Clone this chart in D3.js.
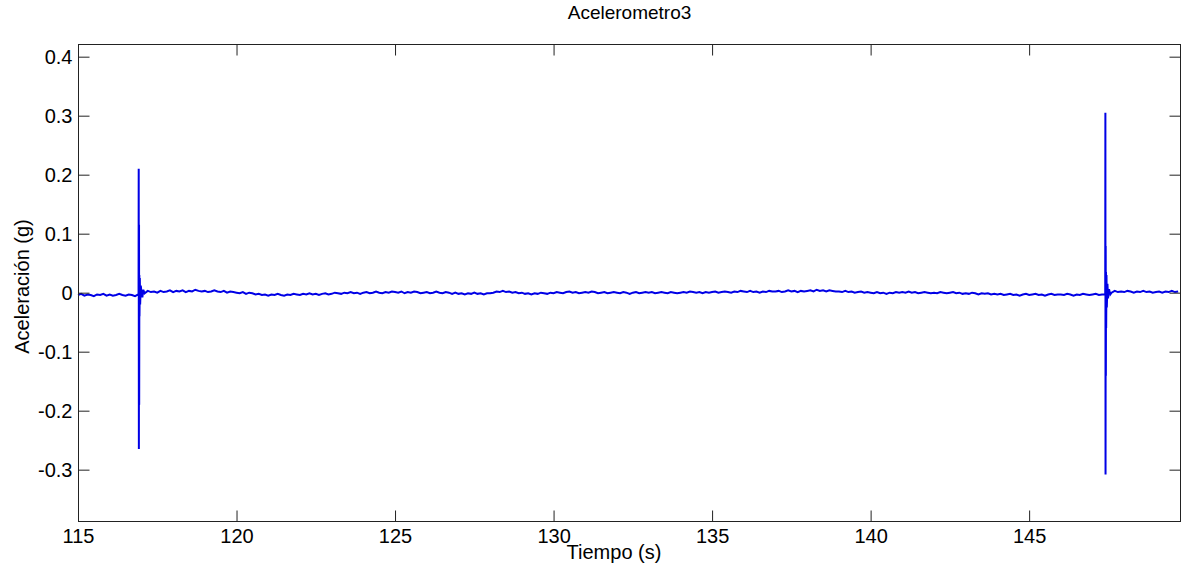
<!DOCTYPE html>
<html>
<head>
<meta charset="utf-8">
<script src="https://cdn.jsdelivr.net/npm/d3@7"></script>
<style>
  body { margin: 0; background: #fff; }
  svg { display: block; font-family: "Liberation Sans", Arial, sans-serif; }
</style>
</head>
<body>
<svg id="chart"></svg>
<script>
// baseline readings, thousandths of g, every 0.1 s starting at 115.0 s
const t0 = 115.0;
const dt = 0.1;
const baseMg = [
  -4,-2,-5,-3,-4,-6,-3,-4,-2,-5,
  -3,-5,-4,-2,-4,-5,-3,-4,-6,-3,
  2,-1,3,1,2,0,3,1,2,4,
  1,3,2,4,1,3,2,5,3,2,
  3,1,2,4,2,1,3,0,2,1,
  0,-1,1,-2,0,-1,-3,-2,-4,-3,
  -5,-3,-4,-2,-4,-5,-3,-4,-2,-3,
  -4,-2,-3,-1,-3,-2,-4,-2,-1,-3,
  -2,0,-1,-2,0,-1,1,-1,0,-2,
  0,1,-1,0,2,0,-1,1,0,2,
  1,0,2,-1,1,0,2,1,-1,0,
  1,-1,0,2,0,-1,1,0,-2,0,
  -2,-1,-3,-1,-2,0,-2,-1,-3,-1,
  -1,0,2,1,3,1,2,0,1,-1,
  0,-2,-1,-3,-1,-2,0,-1,-2,0,
  -1,1,0,-1,1,2,0,1,-1,0,
  1,0,2,1,-1,0,1,-1,0,1,
  0,-1,1,0,-2,0,1,-1,0,1,
  0,1,-1,0,1,0,-1,1,0,-1,
  0,1,0,2,1,0,1,-1,1,0,
  1,2,0,1,2,1,0,2,1,3,
  2,1,3,1,2,0,2,1,3,2,
  2,3,1,2,4,2,3,1,3,2,
  3,4,2,5,3,4,2,4,3,2,
  2,1,3,1,2,0,1,2,0,1,
  0,-1,1,-1,0,-2,0,-1,1,0,
  1,0,2,0,1,-1,0,1,0,-1,
  0,-1,1,0,-1,0,1,-1,0,-2,
  -1,-2,0,-1,-3,-1,-2,-1,-3,-2,
  -3,-2,-4,-3,-2,-4,-3,-5,-3,-2,
  -4,-3,-2,-4,-3,-5,-3,-2,-4,-3,
  -3,-4,-2,-3,-5,-3,-4,-2,-3,-4,
  -3,-2,-4,-3,-3,2,0,3,1,2,
  1,3,2,0,2,1,3,1,2,0,
  1,2,0,2,1,3,1,2
];

// first impact
const spike1T = [116.91, 116.915, 116.92, 116.925, 116.93, 116.935, 116.94, 116.95, 116.96, 116.98, 117.03, 117.06];
const spike1V = [-0.004, 0.21, -0.265, 0.115, -0.19, 0.03, -0.04, 0.025, -0.02, 0.012, -0.008, 0.005];

// second impact
const spike2T = [147.405, 147.41, 147.415, 147.42, 147.425, 147.43, 147.44, 147.45, 147.47, 147.49, 147.52, 147.56];
const spike2V = [0.305, -0.308, 0.079, -0.141, 0.035, -0.06, 0.03, -0.025, 0.015, -0.01, 0.006, -0.003];

const xTicks = [115, 120, 125, 130, 135, 140, 145];
const yTicks = [-0.3, -0.2, -0.1, 0, 0.1, 0.2, 0.3, 0.4];

const width = 1182, height = 569;
const margin = { top: 44, right: 1, bottom: 48, left: 78 };

const svg = d3.select("#chart").attr("width", width).attr("height", height);

const x = d3.scaleLinear().domain([115, 149.79]).range([margin.left, width - margin.right]);
const y = d3.scaleLinear().domain([-0.387, 0.4215]).range([height - margin.bottom, margin.top]);

// merge baseline and spike samples
let pts = baseMg.map((v, i) => ({ t: t0 + i * dt, v: v / 1000 }));
spike1T.forEach((t, i) => pts.push({ t: t, v: spike1V[i] }));
spike2T.forEach((t, i) => pts.push({ t: t, v: spike2V[i] }));
pts.sort((a, b) => a.t - b.t);

const line = d3.line().x(d => x(d.t)).y(d => y(d.v));

svg.append("path")
  .datum(pts)
  .attr("fill", "none")
  .attr("stroke", "#0000e6")
  .attr("stroke-width", 2)
  .attr("stroke-linejoin", "miter")
  .attr("d", line);

const tickLen = 11;
const x0 = margin.left, x1 = width - margin.right;
const y0 = height - margin.bottom, y1 = margin.top;
const fmt = d => d === 0 ? "0" : d3.format(".1f")(d).replace("\u2212", "-");

// box
svg.append("rect")
  .attr("x", x0 + 0.5).attr("y", y1 + 0.5)
  .attr("width", x1 - x0 - 1).attr("height", y0 - y1)
  .attr("fill", "none").attr("stroke", "#222").attr("stroke-width", 1);

// x axis (inward ticks, mirrored on top)
const xAxis = d3.axisBottom(x).tickValues(xTicks).tickSizeInner(-tickLen).tickSizeOuter(0).tickPadding(7);
const gx = svg.append("g").attr("transform", `translate(0,${y0 + 0.5})`).call(xAxis);
gx.select(".domain").remove();
gx.selectAll("line").attr("stroke", "#222");
gx.selectAll("text").attr("font-size", 20).attr("fill", "#000");

const gxTop = svg.append("g").attr("transform", `translate(0,${y1 + 0.5})`)
  .call(d3.axisTop(x).tickValues(xTicks).tickSizeInner(-tickLen).tickSizeOuter(0).tickFormat(""));
gxTop.select(".domain").remove();
gxTop.selectAll("line").attr("stroke", "#222");

// y axis
const yAxis = d3.axisLeft(y).tickValues(yTicks).tickSizeInner(-tickLen).tickSizeOuter(0).tickPadding(6)
  .tickFormat(fmt);
const gy = svg.append("g").attr("transform", `translate(${x0 + 0.5},0)`).call(yAxis);
gy.select(".domain").remove();
gy.selectAll("line").attr("stroke", "#222");
gy.selectAll("text").attr("font-size", 20).attr("fill", "#000");

const gyRight = svg.append("g").attr("transform", `translate(${x1 - 0.5},0)`)
  .call(d3.axisRight(y).tickValues(yTicks).tickSizeInner(-tickLen).tickSizeOuter(0).tickFormat(""));
gyRight.select(".domain").remove();
gyRight.selectAll("line").attr("stroke", "#222");

// labels
svg.append("text")
  .attr("x", (x0 + x1) / 2).attr("y", 19)
  .attr("text-anchor", "middle").attr("font-size", 19).attr("fill", "#000")
  .text("Acelerometro3");

svg.append("text")
  .attr("x", 614).attr("y", 559)
  .attr("text-anchor", "middle").attr("font-size", 20).attr("fill", "#000")
  .text("Tiempo (s)");

svg.append("text")
  .attr("transform", `translate(29,${(y0 + y1) / 2 + 4}) rotate(-90)`)
  .attr("text-anchor", "middle").attr("font-size", 20).attr("fill", "#000")
  .text("Aceleración (g)");
</script>
</body>
</html>
